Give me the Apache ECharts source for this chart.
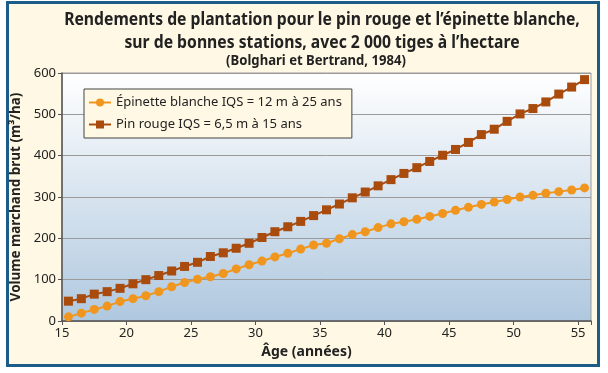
<!DOCTYPE html>
<html><head><meta charset="utf-8">
<script src="https://cdn.jsdelivr.net/npm/echarts@6/dist/echarts.min.js"></script>
<style>html,body{margin:0;padding:0;background:#fff}#c{width:608px;height:373px}</style>
</head><body><div id="c"></div>
<script>
const ages = [15.5,16.5,17.5,18.5,19.5,20.5,21.5,22.5,23.5,24.5,25.5,26.5,27.5,28.5,29.5,30.5,31.5,32.5,33.5,34.5,35.5,36.5,37.5,38.5,39.5,40.5,41.5,42.5,43.5,44.5,45.5,46.5,47.5,48.5,49.5,50.5,51.5,52.5,53.5,54.5,55.5];
const epinette = [10,19,28,36,47,54,61,71,83,93,101,107,115,126,136,145,155,164,174,184,188,199,209,216,226,235,240,246,253,260,268,275,282,288,294,300,304,309,313,317,322];
const pinRouge = [48,54,65,71,79,90,100,110,121,132,142,156,165,176,188,202,216,228,241,255,269,283,298,312,327,342,357,371,386,401,415,432,451,464,483,501,514,530,549,566,584];
const seriesNames = ['Épinette blanche IQS = 12 m à 25 ans','Pin rouge IQS = 6,5 m à 15 ans'];
const titleLines = ['Rendements de plantation pour le pin rouge et l’épinette blanche,','sur de bonnes stations, avec 2 000 tiges à l’hectare','(Bolghari et Bertrand, 1984)'];
const xName = 'Âge (années)';
const yName = 'Volume marchand brut (m³/ha)';

const FONT = '"Noto Sans", sans-serif';
const chart = echarts.init(document.getElementById('c'));
const pair = (xs, ys) => xs.map((x, i) => [x, ys[i]]);
const titleText = (txt, y, size, sx) => ({
  type: 'text', x: 322, y: y, scaleX: sx, silent: true,
  style: {text: txt, fontFamily: FONT, fontSize: size, fontWeight: 'bold', fill: '#222',
    textAlign: 'center', textVerticalAlign: 'middle'}
});
chart.setOption({
  animation: false,
  textStyle: {fontFamily: FONT},
  graphic: [
    {type: 'rect', z: -100, silent: true,
     shape: {x: 7.5, y: 2.5, width: 591, height: 363},
     style: {fill: '#fff8e4', stroke: '#1b5c88', lineWidth: 3}},
    titleText(titleLines[0], 20, 17, 0.925),
    titleText(titleLines[1], 43, 17, 0.925),
    Object.assign(titleText(titleLines[2], 61, 13.5, 0.97), {x: 316})
  ],
  legend: {
    orient: 'vertical', left: 84, top: 89,
    backgroundColor: '#fff8e4', borderColor: '#444', borderWidth: 1,
    padding: [7, 10, 7, 4], itemGap: 9, itemWidth: 22, itemHeight: 10,
    textStyle: {fontFamily: FONT, fontSize: 13, color: '#222'},
    data: seriesNames
  },
  grid: {left: 62, right: 17, top: 73, bottom: 52, show: true,
    borderColor: '#9a9a9a', borderWidth: 1,
    backgroundColor: new echarts.graphic.LinearGradient(0, 0, 0, 1, [
      {offset: 0, color: '#ffffff'}, {offset: 1, color: '#afc8df'}])},
  xAxis: {type: 'value', min: 15, max: 56, interval: 5,
    name: xName, nameLocation: 'middle', nameGap: 24,
    nameTextStyle: {fontFamily: FONT, fontSize: 14, fontWeight: 'bold', color: '#222', padding: [0, 40, 0, 0]},
    axisLine: {lineStyle: {color: '#555', width: 1.5}},
    axisTick: {length: 4, lineStyle: {color: '#555'}},
    splitLine: {show: false},
    axisLabel: {fontFamily: FONT, fontSize: 13, color: '#222', margin: 6,
      formatter: v => (v % 5 === 0 ? String(v) : '')}},
  yAxis: {type: 'value', min: 0, max: 600, interval: 100,
    name: yName, nameLocation: 'middle', nameGap: 31,
    nameTextStyle: {fontFamily: FONT, fontSize: 13.5, fontWeight: 'bold', color: '#222'},
    axisLine: {show: true, lineStyle: {color: '#555', width: 1.5}},
    axisTick: {show: true, length: 4, lineStyle: {color: '#555'}},
    splitLine: {lineStyle: {color: '#9a9a9a', width: 1}},
    axisLabel: {fontFamily: FONT, fontSize: 13, color: '#222', margin: 6}},
  series: [
    {name: seriesNames[0], type: 'line', data: pair(ages, epinette),
     symbol: 'circle', symbolSize: 9, showAllSymbol: true,
     itemStyle: {color: '#f0961f'}, lineStyle: {color: '#f0961f', width: 2}},
    {name: seriesNames[1], type: 'line', data: pair(ages, pinRouge),
     symbol: 'rect', symbolSize: 9, showAllSymbol: true,
     itemStyle: {color: '#a84b0d'}, lineStyle: {color: '#a84b0d', width: 2}}
  ]
});
</script></body></html>
